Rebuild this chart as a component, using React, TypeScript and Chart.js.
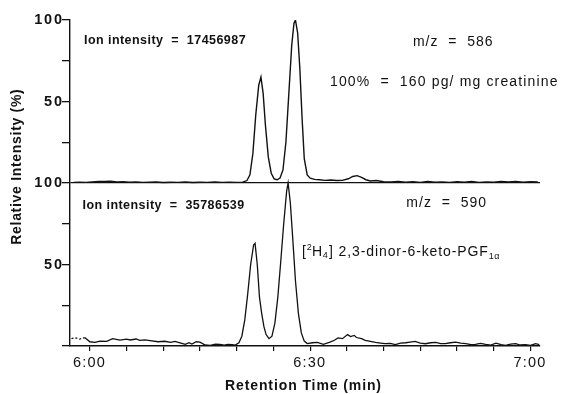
import { useEffect, useRef } from "react";
import { Chart, registerables } from "chart.js";

Chart.register(...registerables);

const FONT = '"Liberation Sans", Arial, Helvetica, sans-serif';
const INK = "#111";

// Retention time axis (seconds; 360 s = 6:00)
const xMin = 357.3;
const xMax = 421.3;
const xTickValues = [360, 365, 370, 375, 380, 385, 390, 395, 400, 405, 410, 415, 420];
const xTickLabels: Record<number, string> = { 360: "6:00", 390: "6:30", 420: "7:00" };

// Two stacked panels share one intensity axis: lower 0-100, upper 100-200
const yTickValues = [0, 25, 50, 75, 100, 125, 150, 175, 200];
const yTickLabels: Record<number, string> = { 50: "50", 100: "100", 150: "50", 200: "100" };
const upperOffset = 100;

// m/z 586 trace (upper panel), relative intensity %
const upperTime = [
  357.8, 358.6, 359.5, 360.3, 361.2, 362.0, 362.8, 363.7, 364.5, 365.4, 366.3, 367.2, 368.1, 369.0,
  370.0, 371.0, 372.0, 373.0, 374.0, 375.0, 376.0, 377.0, 378.0, 379.0, 380.0, 380.8, 381.4, 381.8,
  382.2, 382.6, 383.0, 383.3, 383.6, 383.9, 384.3, 384.7, 385.1, 385.5, 385.9, 386.3, 386.7, 387.1,
  387.5, 387.8, 388.0, 388.3, 388.6, 388.9, 389.2, 389.6, 390.0, 390.6, 391.3, 392.0, 392.8, 393.6,
  394.4, 395.2, 395.8, 396.4, 397.0, 397.6, 398.2, 399.0, 400.0, 401.0, 402.0, 403.0, 404.0, 405.0,
  406.0, 407.0, 408.0, 409.0, 410.0, 411.0, 412.0, 413.0, 414.0, 415.0, 416.0, 417.0, 418.0, 419.0,
  420.0, 421.0,
];
const upperIntensity = [
  0.4, 0.5, 0.4, 0.7, 1.0, 0.9, 1.1, 0.6, 0.8, 0.5, 0.6, 0.4, 0.5, 0.6,
  0.3, 0.5, 0.4, 0.6, 0.3, 0.5, 0.4, 0.6, 0.4, 0.5, 0.4, 0.5, 1.5, 5,
  18, 42, 60, 65, 55, 36, 16, 6, 2.5, 2, 3, 8, 25, 55,
  85, 98, 100, 92, 70, 40, 15, 5, 3, 2.2, 2, 1.6, 1.8, 1.5,
  1.6, 2.6, 4.0, 4.5, 3.4, 2.0, 1.2, 1.5, 0.8, 0.6, 0.9, 0.5, 0.8, 0.4,
  0.9, 0.5, 0.7, 0.4, 0.8, 0.5, 0.9, 0.4, 0.7, 0.5, 0.9, 0.6, 1.0, 0.5,
  0.8, 0.7,
];

// m/z 590 trace (lower panel), relative intensity %
const lowerTime = [
  357.5, 358.0, 358.6, 359.3, 360.0, 360.7, 361.4, 362.3, 363.1, 364.1, 365.0, 365.5, 366.3, 366.8,
  367.5, 368.2, 369.3, 370.2, 371.0, 371.6, 372.4, 373.0, 373.5, 373.9, 374.5, 375.0, 375.7, 376.4,
  377.1, 377.7, 378.3, 378.8, 379.4, 379.8, 380.3, 380.7, 381.1, 381.5, 381.9, 382.3, 382.5, 382.8,
  383.1, 383.4, 383.7, 384.0, 384.4, 384.8, 385.2, 385.6, 386.0, 386.4, 386.8, 387.0, 387.3, 387.6,
  388.0, 388.4, 388.8, 389.2, 389.6, 390.3, 391.0, 391.8, 392.7, 393.3, 393.8, 394.4, 395.1, 395.5,
  396.0, 396.3, 397.0, 397.5, 398.2, 398.9, 399.6, 400.2, 400.9, 401.6, 402.3, 403.0, 403.6, 404.3,
  405.0, 405.7, 406.4, 407.1, 407.8, 408.4, 409.1, 409.8, 410.5, 411.2, 411.9, 412.5, 413.2, 413.9,
  414.6, 415.3, 416.0, 416.6, 417.3, 418.0, 418.6, 419.3, 420.0, 420.7, 421.2,
];
const lowerIntensity = [
  4.5, 5, 4.2, 5.2, 2.6, 2.2, 3, 2.8, 4.5, 3.6, 4.2, 3.7, 4.3, 3.4,
  3.8, 3.3, 2.6, 2.9, 2.2, 2.8, 1.8, 1.0, 2.0, 1.2, 2.6, 2.4, 0.6, 0.4,
  1.2, 1.0, 0.6, 1.0, 0.8, 0.6, 2, 6, 16, 32, 50, 62, 63, 50,
  30, 20, 12, 7, 4.5, 6, 14, 30, 52, 75, 95, 100, 88, 68,
  40, 20, 8, 3, 1.5, 2, 2.2, 1.0, 2.4, 3.5, 5, 4.5, 7.0, 5.8,
  6.5, 5.2, 4.5, 3.4, 2.8, 2.2, 1.8, 1.4, 1.6, 0.8, 1.8, 2.0, 2.4, 2.8,
  1.8, 1.4, 2.0, 2.2, 1.4, 1.4, 2.0, 2.4, 1.8, 1.4, 0.8, 1.0, 1.6, 1.0,
  0.6, 1.8, 0.8, 0.4, 1.2, 1.4, 0.6, 0.8, 0.4, 1.4, 0.8,
];

const fmtTime = (s: number) => {
  const m = Math.floor(s / 60);
  const sec = Math.round(s - m * 60);
  return `${m}:${String(sec).padStart(2, "0")}`;
};

type Ctx = CanvasRenderingContext2D & { letterSpacing?: string };

function drawText(
  ctx: Ctx,
  text: string,
  x: number,
  y: number,
  font: string,
  spacing: number,
  align: "left" | "center" | "right" = "left"
) {
  ctx.font = font;
  ctx.letterSpacing = `${spacing}px`;
  ctx.textBaseline = "middle";
  ctx.textAlign = "left";
  const w = ctx.measureText(text).width - spacing;
  let x0 = x;
  if (align === "center") x0 = x - w / 2;
  if (align === "right") x0 = x - w;
  ctx.fillText(text, x0, y);
  return x0 + w + spacing;
}

const labelsPlugin = {
  id: "chromatogramLabels",
  afterDraw(chart: Chart) {
    const ctx = chart.ctx as Ctx;
    const { chartArea } = chart;
    const x = chart.scales.x;
    const y = chart.scales.y;
    ctx.save();
    ctx.fillStyle = INK;

    // Intensity tick labels
    for (const t of y.ticks) {
      const lbl = yTickLabels[t.value];
      if (lbl) drawText(ctx, lbl, chartArea.left - 8, y.getPixelForValue(t.value), `bold 14.5px ${FONT}`, 1.8, "right");
    }
    // Time tick labels
    for (const t of x.ticks) {
      const lbl = xTickLabels[t.value];
      if (lbl) drawText(ctx, lbl, x.getPixelForValue(t.value) - 1, chartArea.bottom + 17, `14.5px ${FONT}`, 1.2, "center");
    }

    // Axis titles
    drawText(ctx, "Retention Time (min)", (chartArea.left + chartArea.right) / 2 - 2, chartArea.bottom + 40, `bold 14px ${FONT}`, 0.9, "center");
    ctx.save();
    ctx.translate(17, (chartArea.top + chartArea.bottom) / 2 - 16);
    ctx.rotate(-Math.PI / 2);
    drawText(ctx, "Relative Intensity (%)", 0, 0, `bold 14px ${FONT}`, 0.7, "center");
    ctx.restore();

    // Panel annotations (anchored in data units)
    const px = (t: number) => x.getPixelForValue(t);
    const py = (v: number) => y.getPixelForValue(v);
    drawText(ctx, "Ion intensity  =  17456987", px(359.2), py(187.7), `bold 12.5px ${FONT}`, 0.45);
    drawText(ctx, "m/z  =  586", px(404.0), py(186.5), `14px ${FONT}`, 1.0);
    drawText(ctx, "100%  =  160 pg/ mg creatinine", px(392.7), py(162), `14px ${FONT}`, 1.15);
    drawText(ctx, "Ion intensity  =  35786539", px(359.0), py(85.9), `bold 12.5px ${FONT}`, 0.45);
    drawText(ctx, "m/z  =  590", px(403.1), py(87.7), `14px ${FONT}`, 1.0);

    // [²H₄] 2,3-dinor-6-keto-PGF₁α with real super/subscripts
    const base = `14px ${FONT}`;
    const small = `9px ${FONT}`;
    const by = py(57.7);
    let cx = px(388.9);
    cx = drawText(ctx, "[", cx, by, base, 0.8);
    cx = drawText(ctx, "2", cx, by - 4, small, 0.3);
    cx = drawText(ctx, "H", cx, by, base, 0.5);
    cx = drawText(ctx, "4", cx, by + 4, small, 0.3);
    cx = drawText(ctx, "] 2,3-dinor-6-keto-PGF", cx + 1, by, base, 0.9);
    drawText(ctx, "1α", cx, by + 4.5, small, 0.4);

    ctx.restore();
  },
};

export default function App() {
  const canvasRef = useRef<HTMLCanvasElement | null>(null);

  useEffect(() => {
    if (!canvasRef.current) return;
    const upper = upperTime.map((t, i) => ({ x: t, y: upperIntensity[i] + upperOffset }));
    const lower = lowerTime.map((t, i) => ({ x: t, y: lowerIntensity[i] }));

    const chart = new Chart(canvasRef.current, {
      type: "line",
      data: {
        datasets: [
          {
            label: "m/z 586",
            data: upper,
            borderColor: INK,
            borderWidth: 1.4,
            pointRadius: 0,
            tension: 0,
            fill: false,
          },
          {
            label: "m/z 590",
            data: lower,
            borderColor: INK,
            borderWidth: 1.3,
            pointRadius: 0,
            tension: 0,
            fill: false,
            segment: {
              borderDash: (c: any) => (c.p0DataIndex < 3 ? [2, 2] : undefined),
            },
          },
        ],
      },
      options: {
        animation: false,
        responsive: true,
        maintainAspectRatio: false,
        layout: { padding: { top: 20, right: 22, left: 0, bottom: 0 } },
        plugins: {
          legend: { display: false },
          tooltip: { enabled: false },
          title: { display: false },
        },
        scales: {
          x: {
            type: "linear",
            min: xMin,
            max: xMax,
            afterBuildTicks: (s: any) => {
              s.ticks = xTickValues.map((v) => ({ value: v, label: fmtTime(v) }));
            },
            afterFit: (s: any) => {
              s.height = 48;
            },
            border: { display: true, color: INK, width: 1.4 },
            grid: {
              drawOnChartArea: false,
              drawTicks: true,
              tickLength: 5,
              tickColor: INK,
              lineWidth: 1.2,
            },
            ticks: { display: false },
          },
          y: {
            type: "linear",
            min: 0,
            max: 200,
            afterBuildTicks: (s: any) => {
              s.ticks = yTickValues.map((v) => ({ value: v }));
            },
            afterFit: (s: any) => {
              s.width = 70;
            },
            border: { display: true, color: INK, width: 1.4 },
            grid: {
              drawOnChartArea: true,
              drawTicks: true,
              tickLength: 8,
              tickColor: INK,
              lineWidth: 1.3,
              color: (c: any) => (c.tick && c.tick.value === upperOffset ? INK : "rgba(0,0,0,0)"),
            },
            ticks: { display: false },
          },
        },
      },
      plugins: [labelsPlugin],
    });

    return () => chart.destroy();
  }, []);

  return (
    <div style={{ position: "fixed", left: 0, top: 0, width: 562, height: 394, background: "#fff" }}>
      <canvas ref={canvasRef} />
    </div>
  );
}
